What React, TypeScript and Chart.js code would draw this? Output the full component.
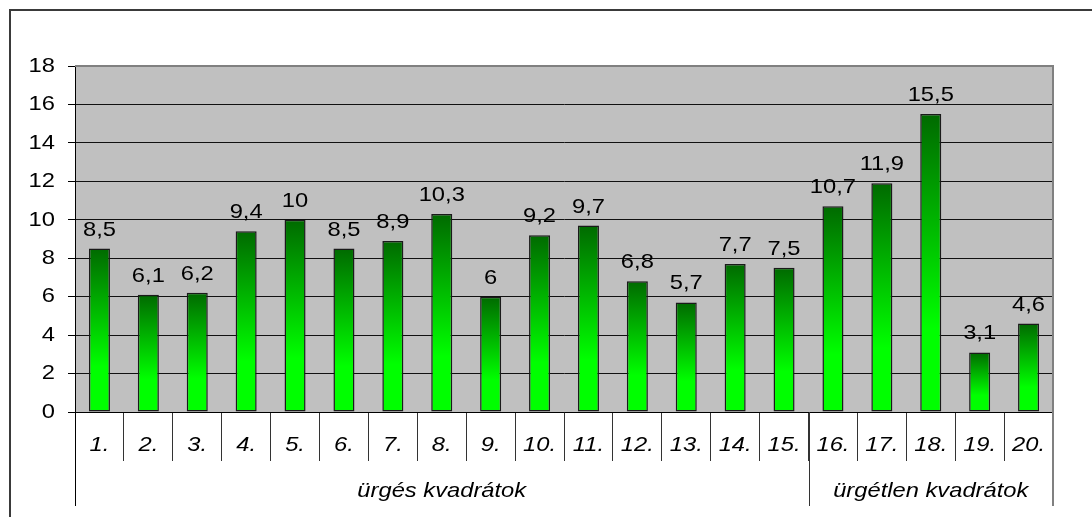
import React, { useEffect, useRef } from "react";
import { Chart, registerables } from "chart.js";

Chart.register(...registerables);

const categories = ["1.", "2.", "3.", "4.", "5.", "6.", "7.", "8.", "9.", "10.", "11.", "12.", "13.", "14.", "15.", "16.", "17.", "18.", "19.", "20."];
const values = [8.5, 6.1, 6.2, 9.4, 10, 8.5, 8.9, 10.3, 6, 9.2, 9.7, 6.8, 5.7, 7.7, 7.5, 10.7, 11.9, 15.5, 3.1, 4.6];
const groupLabels = ["ürgés kvadrátok", "ürgétlen kvadrátok"];
const groupSizes = [15, 5];
const yMin = 0;
const yMax = 18;
const yStep = 2;

const FONT = "Arial, 'Liberation Sans', sans-serif";
const STRETCH = 1.13;

const fmt = (v: number) => String(v).replace(".", ",");

function drawText(ctx: any, text: string, x: number, y: number, align: string, baseline: string, font: string) {
  ctx.save();
  ctx.font = font;
  ctx.fillStyle = "#000";
  ctx.textAlign = align;
  ctx.textBaseline = baseline;
  ctx.translate(x, y);
  ctx.scale(STRETCH, 1);
  ctx.fillText(text, 0, 0);
  ctx.restore();
}

const decorPlugin = {
  id: "decor",
  beforeDraw(chart: any) {
    const { ctx, chartArea } = chart;
    ctx.save();
    ctx.fillStyle = "#ffffff";
    ctx.fillRect(0, 0, chart.width, chart.height);
    // outer frame (top and left)
    ctx.strokeStyle = "#3a3a3a";
    ctx.lineWidth = 2;
    ctx.beginPath();
    ctx.moveTo(10, chart.height);
    ctx.lineTo(10, 10);
    ctx.lineTo(chart.width, 10);
    ctx.stroke();
    // plot background
    ctx.fillStyle = "#c0c0c0";
    ctx.fillRect(chartArea.left, chartArea.top, chartArea.right - chartArea.left, chartArea.bottom - chartArea.top);
    ctx.restore();
  },
  afterDraw(chart: any) {
    const { ctx, chartArea } = chart;
    const x = chart.scales.x;
    const y = chart.scales.y;
    const bottomLine = 506;
    const normal = `21px ${FONT}`;
    const italic = `italic 21px ${FONT}`;
    ctx.save();
    // plot top and right border
    ctx.strokeStyle = "#808080";
    ctx.lineWidth = 2;
    ctx.beginPath();
    ctx.moveTo(chartArea.left, chartArea.top);
    ctx.lineTo(chartArea.right, chartArea.top);
    ctx.lineTo(chartArea.right, bottomLine);
    ctx.stroke();
    // left axis extension
    ctx.strokeStyle = "#000000";
    ctx.lineWidth = 1;
    ctx.beginPath();
    ctx.moveTo(chartArea.left + 0.5, chartArea.bottom);
    ctx.lineTo(chartArea.left + 0.5, bottomLine);
    ctx.stroke();
    // y tick labels
    y.ticks.forEach((t: any, i: number) => {
      drawText(ctx, String(t.value), 55, y.getPixelForTick(i), "right", "middle", normal);
    });
    // x tick labels
    categories.forEach((c, i) => {
      drawText(ctx, c, x.getPixelForValue(i), 445, "center", "middle", italic);
    });
    // group separators + labels
    let start = 0;
    const half = (x.getPixelForValue(1) - x.getPixelForValue(0)) / 2;
    groupSizes.forEach((n, i) => {
      const l = x.getPixelForValue(start) - half;
      const r = x.getPixelForValue(start + n - 1) + half;
      if (i < groupSizes.length - 1) {
        ctx.strokeStyle = "#333";
        ctx.lineWidth = 1;
        ctx.beginPath();
        ctx.moveTo(Math.round(r) + 0.5, chartArea.bottom);
        ctx.lineTo(Math.round(r) + 0.5, bottomLine);
        ctx.stroke();
      }
      drawText(ctx, groupLabels[i], (l + r) / 2, 497, "center", "alphabetic", italic);
      start += n;
    });
    // data labels
    const meta = chart.getDatasetMeta(0);
    meta.data.forEach((bar: any, i: number) => {
      drawText(ctx, fmt(values[i]), bar.x, bar.y - 13, "center", "alphabetic", normal);
    });
    ctx.restore();
  },
};

export default function App() {
  const ref = useRef<HTMLCanvasElement | null>(null);
  useEffect(() => {
    if (!ref.current) return;
    const chart = new Chart(ref.current, {
      type: "bar",
      data: {
        labels: categories,
        datasets: [
          {
            data: values,
            backgroundColor: (c: any) => {
              const ch = c.chart;
              const ys = ch.scales && ch.scales.y;
              if (!ys || c.raw === undefined) return "#00ff00";
              const top = ys.getPixelForValue(c.raw);
              const bot = ys.getPixelForValue(0);
              if (!isFinite(top) || !isFinite(bot) || top === bot) return "#00ff00";
              const g = ch.ctx.createLinearGradient(0, top, 0, bot);
              g.addColorStop(0, "#006a00");
              g.addColorStop(0.72, "#00ff00");
              g.addColorStop(1, "#00ff00");
              return g;
            },
            borderColor: "#1a1a1a",
            borderWidth: 1.5,
            borderSkipped: false,
            barPercentage: 0.43,
            categoryPercentage: 1,
          },
        ],
      },
      options: {
        responsive: false,
        animation: false,
        devicePixelRatio: 1,
        layout: { padding: { top: 66, right: 39, left: 0, bottom: 0 } },
        plugins: { legend: { display: false }, tooltip: { enabled: false }, title: { display: false } },
        scales: {
          x: {
            type: "category",
            offset: true,
            grid: {
              display: true,
              offset: true,
              drawOnChartArea: false,
              drawTicks: true,
              tickLength: 49,
              color: "#333",
              lineWidth: 1,
            },
            border: { display: true, color: "#000", width: 1 },
            ticks: {
              autoSkip: false,
              maxRotation: 0,
              minRotation: 0,
              padding: -28,
              color: "rgba(0,0,0,0)",
              font: { family: FONT, size: 21, style: "italic" },
            },
            afterFit: (s: any) => {
              s.height = 105;
            },
          },
          y: {
            min: yMin,
            max: yMax,
            ticks: {
              stepSize: yStep,
              padding: 13,
              color: "rgba(0,0,0,0)",
              font: { family: FONT, size: 21 },
            },
            grid: {
              color: (c: any) => (c.tick && c.tick.value === yMax ? "#808080" : "#111"),
              lineWidth: 1,
              tickLength: 7,
              drawTicks: true,
              tickColor: "#000",
            },
            border: { display: true, color: "#000", width: 1 },
            afterFit: (s: any) => {
              s.width = 75;
            },
          },
        },
      },
      plugins: [decorPlugin],
    });
    return () => chart.destroy();
  }, []);
  return (
    <div style={{ position: "absolute", left: 0, top: 0, width: 1092, height: 517 }}>
      <canvas ref={ref} width={1092} height={517} style={{ display: "block" }} />
    </div>
  );
}
